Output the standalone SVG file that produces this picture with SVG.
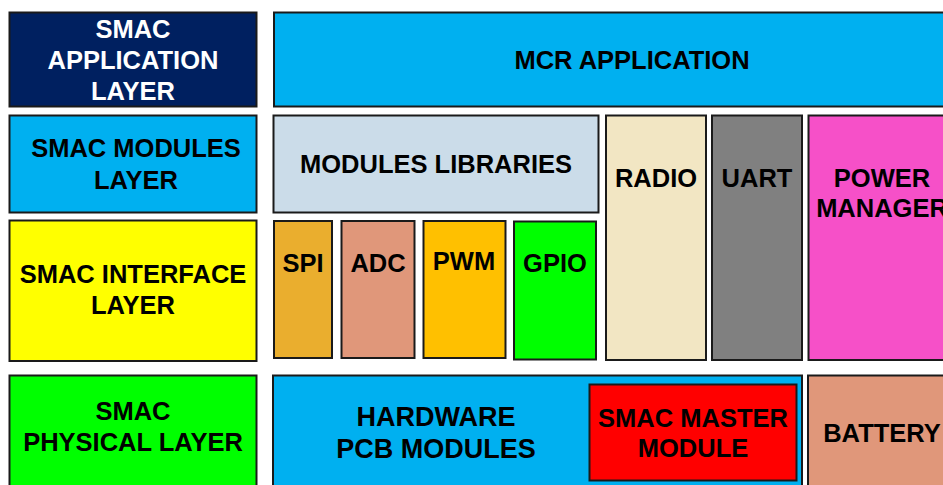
<svg xmlns="http://www.w3.org/2000/svg" width="943" height="485" viewBox="0 0 943 485">
  <style>
    .box { stroke: #1a1a1a; stroke-width: 2; }
    .lbl { font-family: "Liberation Sans", Arial, sans-serif; font-weight: bold; font-size: 25.5px; fill: #000; text-anchor: middle; }
    .lbl.light { fill: #fff; }
    .lbl.big { font-size: 27px; }
  </style>
  <rect width="943" height="485" fill="#fff"/>

  <!-- left column: SMAC layers -->
  <g id="smac-application-layer">
    <rect class="box" x="9.5" y="12.5" width="247" height="94" fill="#002060"/>
    <text class="lbl light" x="133" y="38">SMAC</text>
    <text class="lbl light" x="133" y="69">APPLICATION</text>
    <text class="lbl light" x="133" y="100">LAYER</text>
  </g>
  <g id="smac-modules-layer">
    <rect class="box" x="9.5" y="115.5" width="247" height="97" fill="#00B0F0"/>
    <text class="lbl" x="136" y="157">SMAC MODULES</text>
    <text class="lbl" x="136" y="189">LAYER</text>
  </g>
  <g id="smac-interface-layer">
    <rect class="box" x="9.5" y="220.5" width="247" height="140.5" fill="#FFFF00"/>
    <text class="lbl" x="133" y="283">SMAC INTERFACE</text>
    <text class="lbl" x="133" y="314">LAYER</text>
  </g>
  <g id="smac-physical-layer">
    <rect class="box" x="9.5" y="375.5" width="247" height="125" fill="#00FF00"/>
    <text class="lbl" x="133" y="420">SMAC</text>
    <text class="lbl" x="133" y="451">PHYSICAL LAYER</text>
  </g>

  <!-- application row -->
  <g id="mcr-application">
    <rect class="box" x="274" y="12.5" width="690" height="94" fill="#00B0F0"/>
    <text class="lbl" x="632" y="69">MCR APPLICATION</text>
  </g>

  <!-- modules row -->
  <g id="modules-libraries">
    <rect class="box" x="273.5" y="115.5" width="325" height="97" fill="#CBDCE9"/>
    <text class="lbl" x="436" y="173">MODULES LIBRARIES</text>
  </g>
  <g id="radio">
    <rect class="box" x="606" y="115.5" width="100" height="244.5" fill="#F2E6C3"/>
    <text class="lbl" x="656" y="187">RADIO</text>
  </g>
  <g id="uart">
    <rect class="box" x="712" y="115.5" width="90" height="244.5" fill="#808080"/>
    <text class="lbl" x="757" y="187">UART</text>
  </g>
  <g id="power-manager">
    <rect class="box" x="808.5" y="115.5" width="150" height="244.5" fill="#F650C8"/>
    <text class="lbl" x="882" y="187">POWER</text>
    <text class="lbl" x="882" y="217">MANAGER</text>
  </g>

  <!-- interface row -->
  <g id="spi">
    <rect class="box" x="274" y="221" width="58" height="137" fill="#EAAE2E"/>
    <text class="lbl" x="303" y="272">SPI</text>
  </g>
  <g id="adc">
    <rect class="box" x="341.5" y="221" width="73" height="137" fill="#E0977A"/>
    <text class="lbl" x="378" y="272">ADC</text>
  </g>
  <g id="pwm">
    <rect class="box" x="423.5" y="221" width="82" height="137" fill="#FFC000"/>
    <text class="lbl" x="464" y="270">PWM</text>
  </g>
  <g id="gpio">
    <rect class="box" x="514" y="221.5" width="82" height="138" fill="#00FF00"/>
    <text class="lbl" x="555" y="272">GPIO</text>
  </g>

  <!-- hardware row -->
  <g id="hardware-pcb-modules">
    <rect class="box" x="273" y="375.5" width="529" height="125" fill="#00B0F0"/>
    <text class="lbl big" x="436" y="426">HARDWARE</text>
    <text class="lbl big" x="436" y="458">PCB MODULES</text>
  </g>
  <g id="smac-master-module">
    <rect class="box" x="589.5" y="384.5" width="207" height="96" fill="#FF0000"/>
    <text class="lbl" x="693" y="427">SMAC MASTER</text>
    <text class="lbl" x="693" y="457">MODULE</text>
  </g>
  <g id="battery">
    <rect class="box" x="808" y="375.5" width="150" height="125" fill="#E0977A"/>
    <text class="lbl" x="882" y="442">BATTERY</text>
  </g>

  <!-- layered stack: no connectors between blocks -->
  <g id="connectors"/>
</svg>
